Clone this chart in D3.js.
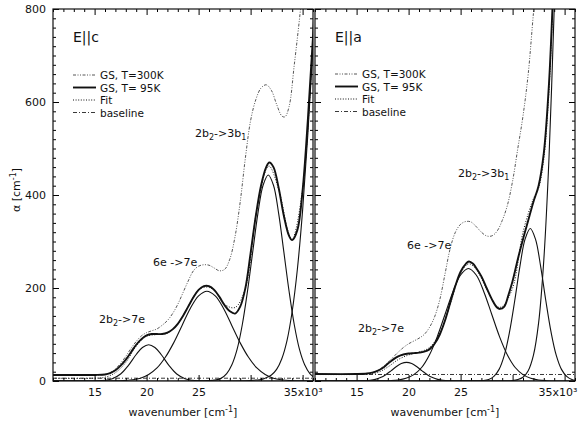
<!DOCTYPE html>
<html>
<head>
<meta charset="utf-8">
<script src="https://cdn.jsdelivr.net/npm/d3@7"></script>
<style>
body { margin: 0; background: #fff; }
svg text { font-family: "DejaVu Sans", sans-serif; fill: #111; }
</style>
</head>
<body>
<svg width="578" height="424"></svg>
<script>
// Absorption spectra, two polarisations, wavenumber in 10^3 cm^-1, alpha in cm^-1

// ---- E||c panel ----
const warmC = [[11,13],[16,14],[16.5,18],[17,26],[17.5,38],[18,53],[18.5,70],[19,85],[19.5,97],[20,104],[20.5,108],[21,112],[21.5,120],[22,130],[22.5,145],[23,165],[23.5,190],[24,215],[24.5,237],[25,247],[25.5,250],[26,249],[26.5,243],[27,237],[27.5,240],[28,262],[28.5,310],[29,385],[29.5,480],[30,560],[30.5,605],[31,630],[31.5,637],[32,625],[32.5,595],[33,570],[33.3,568],[33.7,590],[34.2,680],[34.8,800],[35,850]];
const coldC = [[11,13],[15,13],[16,14],[16.5,17],[17,23],[17.5,33],[18,46],[18.5,62],[19,78],[19.5,90],[20,98],[20.5,101],[21,101],[21.5,101],[22,104],[22.5,111],[23,123],[23.5,140],[24,160],[24.5,180],[25,196],[25.5,204],[26,204],[26.5,196],[27,181],[27.5,163],[28,150],[28.5,145],[29,160],[29.5,200],[30,275],[30.5,355],[31,420],[31.5,460],[31.8,470],[32.2,460],[32.7,415],[33.2,355],[33.7,312],[34,303],[34.5,325],[35,410],[35.5,560],[36,740],[36.5,950]];
const fitC = [[11,6],[15,6],[16,8],[17,18],[18,40],[19,75],[20,96],[21,100],[22,103],[23,123],[24,160],[25,196],[25.8,202],[26.5,195],[27.5,165],[28.5,158],[29.5,200],[30.5,355],[31.5,455],[31.8,462],[32.7,412],[33.7,315],[34,305],[35,412],[36,740]];
const baseC = [[11,6],[36,6]];
const bandsC = [
  [[11,0],[14.5,0],[15.7,1],[16.7,5],[17.5,15],[18.2,32],[19,57],[19.6,72],[20.2,78],[20.8,72],[21.4,57],[22.2,32],[22.9,15],[23.7,5],[24.7,1],[26,0],[36,0]],
  [[11,0],[17,0.3],[17.8,1],[18.6,2.6],[19.4,6],[20.2,14],[21,28],[21.8,51],[22.6,82],[23.4,119],[24.2,156],[25,183],[25.8,193],[26.6,183],[27.4,156],[28.2,119],[29,82],[29.8,51],[30.6,28],[31.4,14],[32.2,6],[33,2.6],[33.8,1],[35,0.2],[36,0]],
  [[11,0],[25.5,0.5],[26.7,2.4],[27.2,6.5],[27.7,16],[28.2,35],[28.7,68],[29.2,121],[29.7,193],[30.2,277],[30.7,360],[31.2,421],[31.7,443],[32.2,421],[32.7,360],[33.2,277],[33.7,193],[34.2,121],[34.7,68],[35.2,35],[35.7,16],[36.2,6.5]],
  [[11,0],[29.5,0.5],[30.5,2],[31,3],[31.5,7],[32,13],[32.5,25],[33,48],[33.5,87],[34,150],[34.5,241],[35,367],[35.5,529],[36,720],[36.5,930]]
];

// ---- E||a panel ----
const warmA = [[11,15],[16,16],[17,22],[18,40],[19,62],[19.5,72],[20,80],[21,92],[21.5,100],[22,115],[22.5,138],[23,175],[23.5,230],[24,285],[24.5,320],[25,337],[25.5,343],[26,342],[26.5,332],[27,320],[27.5,312],[28,312],[28.5,322],[29,345],[29.5,378],[30,430],[30.5,500],[31,570],[31.5,660],[32,790],[32.3,860]];
const coldA = [[11,15],[15,15],[16,16],[16.5,18],[17,22],[17.5,28],[18,37],[18.5,46],[19,53],[19.5,57],[20,59],[20.5,60],[21,61],[21.5,63],[22,68],[22.5,80],[23,100],[23.5,130],[24,168],[24.5,205],[25,235],[25.5,252],[25.8,257],[26.2,252],[26.5,243],[27,225],[27.5,200],[28,176],[28.5,158],[28.8,155],[29.2,160],[29.6,185],[30,215],[30.5,262],[31,305],[31.5,345],[32,385],[32.5,420],[33,490],[33.5,640],[34,900]];
const fitA = [[11,14],[15,14],[16,15],[17,18],[18,30],[19,46],[20,56],[21,62],[22,72],[23,103],[24,165],[25,232],[25.8,252],[26.5,240],[27.5,198],[28.5,160],[29,160],[30,200],[31,320],[32,392],[32.5,415],[33,478],[33.5,625],[34,890]];
const baseA = [[11,14],[36,14]];
const bandsA = [
  [[11,0],[14.8,0.1],[15.8,0.5],[16.3,1.5],[16.8,3.5],[17.3,7.4],[17.8,13.6],[18.3,21.8],[18.8,30.5],[19.3,37.4],[19.8,40],[20.3,37.4],[20.8,30.5],[21.3,21.8],[21.8,13.6],[22.3,7.4],[22.8,3.5],[23.3,1.5],[23.8,0.5],[25,0],[36,0]],
  [[11,0],[17.5,0.2],[18.25,0.7],[19,2.1],[19.75,5.7],[20.5,13.7],[21.25,29],[22,56],[22.75,95],[23.5,143],[24.25,191],[25,228],[25.75,242],[26.5,228],[27.25,191],[28,143],[28.75,95],[29.5,56],[30.25,29],[31,13.7],[31.75,5.7],[32.5,2.1],[33.25,0.7],[34.5,0.1],[36,0]],
  [[11,0],[26,0.2],[27.2,1],[27.7,3.4],[28.2,10],[28.7,25],[29.2,55],[29.7,105],[30.2,172],[30.7,246],[31.2,305],[31.7,328],[32.2,305],[32.7,246],[33.2,172],[33.7,105],[34.2,55],[34.7,25],[35.2,10],[35.7,3.4],[36.2,1]],
  [[11,0],[29,0.3],[30,1],[30.5,3],[31,8],[31.5,22],[32,55],[32.5,125],[33,260],[33.5,480],[34,800],[34.3,1000]]
];

// axes / labels
const xDomain = [11, 36];
const yDomain = [0, 800];
const xLabelTicks = [15, 20, 25, 35];
const xMajorTicks = [15, 20, 25, 30, 35];
const yLabelTicks = [0, 200, 400, 600, 800];
const legendNames = ["GS, T=300K", "GS, T= 95K", "Fit", "baseline"];

// styles
const STYLE = {
  warm: { w: 0.9, dash: "3,1.5,1,1.5,1,1.5", col: "#444" },
  cold: { w: 1.9, dash: null, col: "#111" },
  fit:  { w: 1.0, dash: "1,1.6", col: "#111" },
  base: { w: 0.9, dash: "4,2,1,2", col: "#222" },
  band: { w: 1.1, dash: null, col: "#111" }
};

const svg = d3.select("svg");
const TOP = 9, BOTTOM = 381;
const y = d3.scaleLinear().domain(yDomain).range([BOTTOM, TOP]);

const panels = [
  { id: "c", x0: 53, x1: 313, title: "E||c", warm: warmC, cold: coldC, fit: fitC, base: baseC, bands: bandsC,
    leg: { x: 73, y: 75 },
    notes: [ { t: ["2b", "2", "->3b", "1"], x: 195, y: 137 }, { t: ["6e ->7e"], x: 153, y: 266 }, { t: ["2b", "2", "->7e"], x: 99, y: 323 } ] },
  { id: "a", x0: 315, x1: 575, title: "E||a", warm: warmA, cold: coldA, fit: fitA, base: baseA, bands: bandsA,
    leg: { x: 335, y: 74 },
    notes: [ { t: ["2b", "2", "->3b", "1"], x: 458, y: 177 }, { t: ["6e ->7e"], x: 407, y: 249 }, { t: ["2b", "2", "->7e"], x: 358, y: 332 } ] }
];

function drawLine(g, line, data, st) {
  g.append("path")
    .datum(data)
    .attr("d", line)
    .attr("fill", "none")
    .attr("stroke", st.col)
    .attr("stroke-width", st.w)
    .attr("stroke-dasharray", st.dash)
    .attr("stroke-linejoin", "round");
}

panels.forEach(function(p, i) {
  const x = d3.scaleLinear().domain(xDomain).range([p.x0, p.x1]);
  const line = d3.line()
    .x(d => x(d[0]))
    .y(d => y(d[1]))
    .curve(d3.curveCatmullRom.alpha(0.5));

  // clip
  svg.append("clipPath").attr("id", "clip-" + p.id)
    .append("rect")
    .attr("x", p.x0).attr("y", TOP)
    .attr("width", p.x1 - p.x0).attr("height", BOTTOM - TOP);

  const g = svg.append("g").attr("clip-path", "url(#clip-" + p.id + ")");

  p.bands.forEach(b => drawLine(g, line, b, STYLE.band));
  drawLine(g, line, p.base, STYLE.base);
  drawLine(g, line, p.warm, STYLE.warm);
  drawLine(g, line, p.fit, STYLE.fit);
  drawLine(g, line, p.cold, STYLE.cold);

  // ticks, all pointing inwards
  const minorX = d3.range(11, 37, 1).filter(v => xMajorTicks.indexOf(v) < 0);
  const minorY = d3.range(0, 801, 20).filter(v => v % 200 !== 0);

  const tickAxes = [
    [d3.axisBottom(x), "translate(0," + BOTTOM + ")", xMajorTicks, minorX],
    [d3.axisTop(x), "translate(0," + TOP + ")", xMajorTicks, minorX],
    [d3.axisLeft(y), "translate(" + p.x0 + ",0)", yLabelTicks, minorY],
    [d3.axisRight(y), "translate(" + p.x1 + ",0)", yLabelTicks, minorY]
  ];
  tickAxes.forEach(function(a) {
    const ax = a[0];
    svg.append("g").attr("transform", a[1])
      .call(ax.tickValues(a[2]).tickSize(-6).tickSizeOuter(0).tickFormat(""))
      .call(s => s.select(".domain").remove());
    svg.append("g").attr("transform", a[1])
      .call(ax.tickValues(a[3]).tickSize(-3).tickSizeOuter(0).tickFormat(""))
      .call(s => s.select(".domain").remove());
  });

  // frame
  svg.append("rect")
    .attr("x", p.x0).attr("y", TOP)
    .attr("width", p.x1 - p.x0).attr("height", BOTTOM - TOP)
    .attr("fill", "none").attr("stroke", "#111").attr("stroke-width", 1.2);

  // x tick labels
  const xl = svg.append("g").attr("transform", "translate(0," + BOTTOM + ")")
    .call(d3.axisBottom(x).tickValues(xLabelTicks).tickSize(0).tickPadding(7)
      .tickFormat(d => d === 35 ? "35x10\u00b3" : d))
    .call(s => s.select(".domain").remove());
  xl.selectAll("text").attr("font-size", 11).style("font-family", "DejaVu Sans, sans-serif");
  // the last label of the right panel would run past the page edge
  if (i === 1) {
    xl.selectAll("text").filter(d => d === 35)
      .attr("text-anchor", "end")
      .attr("x", 577 - x(35));
  }

  // x title
  const xt = svg.append("text")
    .attr("x", (p.x0 + p.x1) / 2).attr("y", 416)
    .attr("text-anchor", "middle").attr("font-size", 11)
    .text("wavenumber [cm");
  xt.append("tspan").attr("dy", -4).attr("font-size", 8).text("-1");
  xt.append("tspan").attr("dy", 4).text("]");

  // y tick labels on the first panel only
  if (i === 0) {
    svg.append("g").attr("transform", "translate(" + p.x0 + ",0)")
      .call(d3.axisLeft(y).tickValues(yLabelTicks).tickSize(0).tickPadding(7))
      .call(s => s.select(".domain").remove())
      .selectAll("text").attr("font-size", 11).style("font-family", "DejaVu Sans, sans-serif");

    const yt = svg.append("text")
      .attr("transform", "translate(20,190) rotate(-90)")
      .attr("text-anchor", "middle").attr("font-size", 11)
      .text("\u03b1 [cm");
    yt.append("tspan").attr("dy", -4).attr("font-size", 8).text("-1");
    yt.append("tspan").attr("dy", 4).text("]");
  }

  // panel title
  svg.append("text")
    .attr("x", p.x0 + 20).attr("y", 42)
    .attr("font-size", 14)
    .text(p.title);

  // legend
  const styles = [STYLE.warm, STYLE.cold, STYLE.fit, STYLE.base];
  legendNames.forEach(function(name, k) {
    const ly = p.leg.y + k * 12.5;
    svg.append("line")
      .attr("x1", p.leg.x).attr("x2", p.leg.x + 23)
      .attr("y1", ly).attr("y2", ly)
      .attr("stroke", styles[k].col)
      .attr("stroke-width", styles[k].w)
      .attr("stroke-dasharray", styles[k].dash);
    svg.append("text")
      .attr("x", p.leg.x + 27).attr("y", ly + 4)
      .attr("font-size", 10.5)
      .text(name);
  });

  // band annotations, subscripts every second piece
  p.notes.forEach(function(n) {
    const t = svg.append("text").attr("x", n.x).attr("y", n.y).attr("font-size", 11);
    n.t.forEach(function(part, k) {
      if (k % 2 === 1) {
        t.append("tspan").attr("dy", 3).attr("font-size", 8).text(part);
      } else {
        t.append("tspan").attr("dy", k === 0 ? 0 : -3).text(part);
      }
    });
  });
});
</script>
</body>
</html>
